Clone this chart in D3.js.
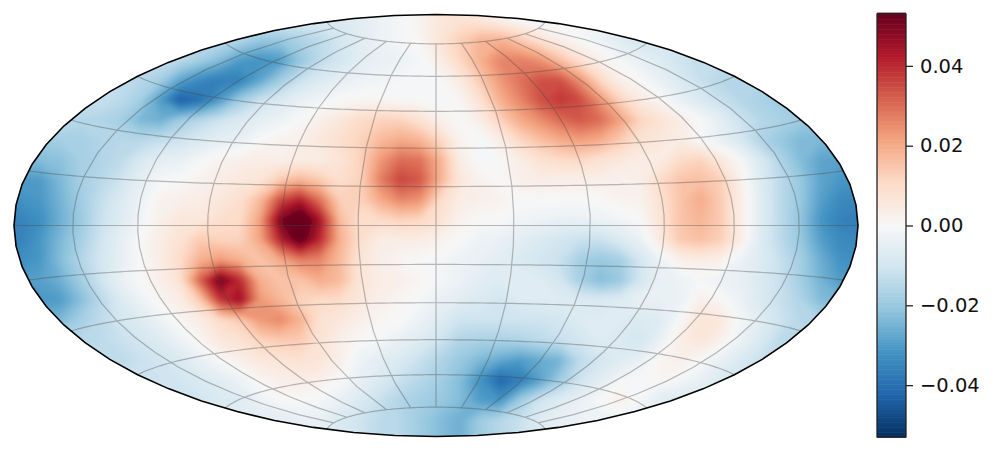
<!DOCTYPE html>
<html lang="en">
	<head>
		<meta charset="utf-8">
		<title>Sky map</title>
		<script src="https://d3js.org/d3.v7.min.js"></script>
		<style type="text/css">
			html, body { margin: 0; padding: 0; background: #fff; }
			svg { display: block; }
			.tick text { font-family: "DejaVu Sans", sans-serif; font-size: 19.5px; fill: #111; }
		</style>
	</head>
	<body>
		<script type="text/javascript">

			//Colorbar tick labels and range
			var barTicks = [-0.04, -0.02, 0, 0.02, 0.04];
			var barRange = [-0.053, 0.053];

			//Map field, in units of 0.001. One row every 20px,
			//first value of each row sits at fieldStartX, rows are padded to the frame
			var fieldStartX = [340, 340, 220, 160, 120, 80, 60, 40, 20, 20, 0, 0, 0, 20, 20, 40, 40, 80, 100, 140, 180, 260, 260];
			var fieldRows = [
				[-8,-6,-3,-1,2,6,8,6,3,0,-2],
				[-8,-6,-3,-1,2,6,8,6,3,0,-2],
				[-13,-16,-20,-20,-17,-14,-10,-6,-3,-1,1,7,13,18,19,14,8,3,0,-3,-7,-10],
				[-12,-14,-18,-23,-30,-32,-30,-21,-14,-10,-6,-4,-3,-1,4,11,19,26,27,24,16,8,3,-1,-4,-7,-11,-13],
				[-13,-15,-18,-28,-34,-37,-36,-28,-19,-12,-8,-5,-3,-2,-1,-1,0,5,14,23,29,34,34,24,11,3,0,-4,-8,-12,-15,-16],
				[-12,-12,-14,-18,-30,-44,-40,-30,-19,-12,-8,-4,-2,0,1,1,0,0,-1,1,8,19,26,34,38,35,24,12,5,1,-4,-8,-12,-15,-17,-19],
				[-13,-15,-16,-18,-24,-26,-19,-15,-11,-8,-5,-3,0,3,6,10,12,12,8,3,0,4,12,20,25,30,33,30,22,12,8,4,0,-5,-11,-15,-17,-19,-20],
				[-19,-18,-18,-16,-15,-15,-13,-11,-8,-5,-4,0,2,3,6,9,12,17,20,18,11,2,-1,4,11,16,20,22,20,14,8,6,4,0,-4,-9,-16,-20,-24,-24,-24],
				[-24,-23,-22,-18,-16,-14,-9,-5,-4,-1,2,3,4,3,4,4,7,12,23,30,29,19,4,-1,0,4,8,10,11,8,6,4,4,10,12,6,0,-8,-16,-23,-28,-29],
				[-30,-30,-24,-18,-15,-11,-5,-1,0,2,4,6,7,14,18,14,9,12,27,36,33,19,6,2,0,3,4,3,3,3,2,3,10,15,16,13,3,-7,-14,-20,-28,-31,-32],
				[-33,-32,-31,-25,-19,-13,-8,-3,2,3,4,6,9,17,35,42,29,13,12,20,26,24,10,4,3,2,0,0,0,0,0,2,2,8,15,20,14,4,-6,-14,-20,-29,-34,-35],
				[-36,-36,-33,-26,-20,-12,-7,-2,3,6,6,9,10,22,50,60,44,17,9,10,12,11,8,2,0,0,-2,-3,-4,-4,-3,-2,0,7,15,18,14,4,-6,-14,-21,-31,-36,-37],
				[-36,-36,-31,-24,-18,-11,-5,0,4,8,14,12,12,21,41,55,40,19,9,4,4,4,2,0,-3,-4,-6,-8,-10,-12,-12,-8,-4,5,14,16,13,4,-7,-14,-20,-29,-34,-35],
				[-33,-31,-23,-16,-10,-5,0,4,10,19,23,19,15,20,27,26,17,7,3,1,0,-1,-3,-4,-6,-8,-10,-12,-18,-20,-18,-10,-3,3,4,3,-3,-7,-12,-18,-26,-32,-33],
				[-30,-29,-26,-19,-11,-4,0,3,8,32,52,40,19,15,15,20,17,7,4,3,1,-1,-3,-6,-7,-6,-7,-10,-18,-23,-20,-10,-4,-3,-1,-3,-4,-8,-12,-18,-25,-30,-31],
				[-31,-30,-23,-15,-8,-3,1,4,14,38,46,23,18,12,10,10,6,3,1,-1,-4,-6,-8,-10,-7,-7,-7,-8,-8,-7,-4,-4,-4,3,1,-3,-8,-12,-16,-23,-25],
				[-25,-24,-18,-14,-10,-7,-3,1,4,10,14,23,26,19,8,6,3,1,0,-3,-7,-11,-11,-11,-11,-11,-10,-7,-7,-7,-8,-7,0,7,6,-1,-6,-11,-15,-16],
				[-15,-14,-12,-10,-7,-3,1,6,8,12,14,14,8,3,0,-1,-4,-7,-11,-16,-17,-17,-16,-14,-12,-10,-7,-8,-10,-4,4,7,3,-3,-8,-14,-15],
				[-14,-14,-12,-10,-8,-4,0,3,6,7,8,7,3,-3,-6,-8,-12,-16,-20,-24,-27,-30,-27,-25,-14,-10,-7,-4,1,3,0,-4,-8,-12,-14],
				[-12,-11,-10,-8,-6,-3,1,3,4,3,0,-4,-8,-12,-15,-18,-23,-32,-42,-37,-29,-19,-11,-6,-1,0,1,-1,-4,-8,-11],
				[-11,-10,-8,-7,-3,0,0,-1,-4,-8,-12,-16,-18,-20,-23,-30,-32,-19,-11,-7,-4,0,3,-1,-6,-8],
				[-6,-6,-4,-4,-8,-11,-14,-15,-19,-23,-26,-19,-15,-12,-7,-4,-3,-3],
				[-6,-6,-4,-4,-8,-11,-14,-15,-19,-23,-26,-19,-15,-12,-7,-4,-3,-3]
			];

			//Width and height
			var w = 996;
			var h = 452;
			var cellSize = 20;
			var gridCols = 45;
			var gridRows = fieldRows.length;

			//Pad every row out to a full rectangle
			var gridValues = [];
			fieldRows.forEach(function(row, j) {
				var first = fieldStartX[j] / cellSize;
				for (var i = 0; i < gridCols; i++) {
					var k = Math.max(0, Math.min(row.length - 1, i - first));
					gridValues.push(row[k]);
				}
			});

			//Same colors as matplotlib's RdBu_r, centered on zero
			var colorStops = d3.schemeRdBu[11].slice().reverse();
			var color = d3.scaleLinear()
				.domain(d3.range(11).map(function(i) { return barRange[0] + (barRange[1] - barRange[0]) * i / 10; }))
				.range(colorStops)
				.clamp(true);

			//Hammer projection, d3 core does not ship one
			function hammerRaw(lambda, phi) {
				var c = Math.cos(phi);
				var d = Math.sqrt(1 + c * Math.cos(lambda / 2));
				return [2 * Math.SQRT2 * c * Math.sin(lambda / 2) / d, Math.SQRT2 * Math.sin(phi) / d];
			}

			var projection = d3.geoProjection(hammerRaw)
				.scale(149.2)
				.translate([436, 225.5]);
			var path = d3.geoPath().projection(projection);

			var svg = d3.select("body")
				.append("svg")
				.attr("width", w)
				.attr("height", h);

			var defs = svg.append("defs");
			defs.append("clipPath")
				.attr("id", "sphere-clip")
				.append("path")
				.datum({type: "Sphere"})
				.attr("d", path);
			defs.append("filter")
				.attr("id", "soften")
				.attr("filterUnits", "userSpaceOnUse")
				.attr("x", -20).attr("y", -20)
				.attr("width", w).attr("height", h + 40)
				.append("feGaussianBlur")
				.attr("stdDeviation", 2.6);

			//Grid cells to pixels
			var gridX = d3.scaleLinear().domain([0.5, gridCols + 0.5]).range([0, gridCols * cellSize]);
			var gridY = d3.scaleLinear().domain([0.5, gridRows + 0.5]).range([0, gridRows * cellSize]);
			var gridPath = d3.geoPath().projection(d3.geoTransform({
				point: function(x, y) { this.stream.point(gridX(x), gridY(y)); }
			}));

			var contours = d3.contours()
				.size([gridCols, gridRows])
				.smooth(true)
				.thresholds(d3.range(-53, 54, 1));

			var map = svg.append("g").attr("clip-path", "url(#sphere-clip)");
			map.append("g")
				.attr("filter", "url(#soften)")
				.selectAll("path")
				.data(contours(gridValues))
				.enter()
				.append("path")
				.attr("d", gridPath)
				.attr("fill", function(d) { return color((d.value + 0.5) / 1000); });

			//Grid, meridians stop at the 75 degree parallels
			var graticule = d3.geoGraticule()
				.extent([[-179.9, -75], [180, 75.01]])
				.step([30, 15]);
			svg.append("path")
				.datum(graticule())
				.attr("d", path)
				.attr("fill", "none")
				.attr("stroke", "#444")
				.attr("stroke-opacity", 0.36)
				.attr("stroke-width", 1.2);

			//Outline
			svg.append("path")
				.datum({type: "Sphere"})
				.attr("d", path)
				.attr("fill", "none")
				.attr("stroke", "#000")
				.attr("stroke-width", 1.6);

			//Colorbar
			var barY = d3.scaleLinear().domain(barRange).range([437, 14]);
			var barX = 877;
			var barW = 29;
			var levels = d3.range(256).map(function(i) { return barRange[0] + (barRange[1] - barRange[0]) * i / 255; });
			var bar = svg.append("g");
			bar.selectAll("rect")
				.data(levels)
				.enter()
				.append("rect")
				.attr("x", barX)
				.attr("width", barW)
				.attr("y", function(d) { return barY(d) - 1.4; })
				.attr("height", 2.2)
				.attr("fill", function(d) { return color(d); });
			bar.append("rect")
				.attr("x", barX)
				.attr("y", barY(barRange[1]))
				.attr("width", barW)
				.attr("height", barY(barRange[0]) - barY(barRange[1]))
				.attr("fill", "none")
				.attr("stroke", "#222")
				.attr("stroke-width", 1.3);

			var axis = d3.axisRight(barY)
				.tickValues(barTicks)
				.tickSize(7)
				.tickPadding(7)
				.tickFormat(d3.format(".2f"));
			var axisG = svg.append("g")
				.attr("transform", "translate(" + (barX + barW) + ",0)")
				.call(axis);
			axisG.select(".domain").remove();
			axisG.selectAll(".tick line").attr("stroke", "#222").attr("stroke-width", 1.3);

		</script>
	</body>
</html>
